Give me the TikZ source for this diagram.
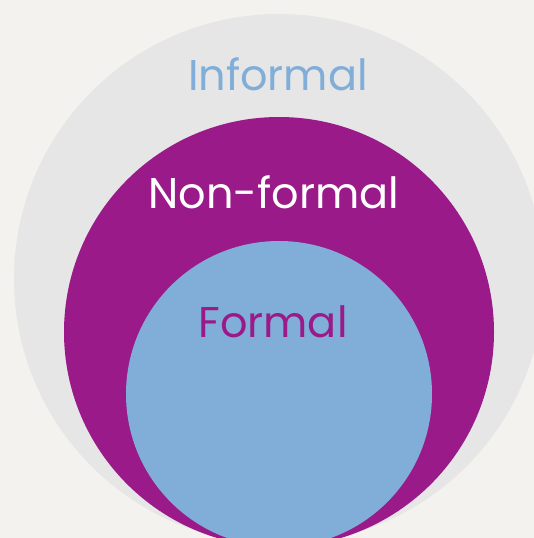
\documentclass[tikz,border=0pt]{standalone}
\usepackage{fontspec}
\setmainfont{Poppins}
\definecolor{bgpaper}{HTML}{F4F2EE}
\definecolor{ringgrey}{HTML}{E6E6E6}
\definecolor{ringpurple}{HTML}{9A1A8A}
\definecolor{ringblue}{HTML}{80AED8}
\tikzset{
  lbl/.style={anchor=base, inner sep=0pt, font=\fontsize{43}{48}\selectfont},
}
\begin{document}
\begin{tikzpicture}[x=1pt,y=-1pt]
  \useasboundingbox (0,0) rectangle (534,538);
  \clip (0,0) rectangle (534,538);
  \fill[bgpaper] (0,0) rectangle (534,538);
  \fill[ringgrey] (279,279) circle[radius=265];
  \fill[ringpurple] (279,332) circle[radius=215];
  \fill[ringblue] (279,394) circle[radius=153];
  \node[lbl, text=ringblue] (informal) at (278,90) {Informal};
  \node[lbl, text=white] (nonformal) at (274,208) {Non-formal};
  \node[lbl, text=ringpurple] (formal) at (273,337) {Formal};
\end{tikzpicture}
\end{document}
